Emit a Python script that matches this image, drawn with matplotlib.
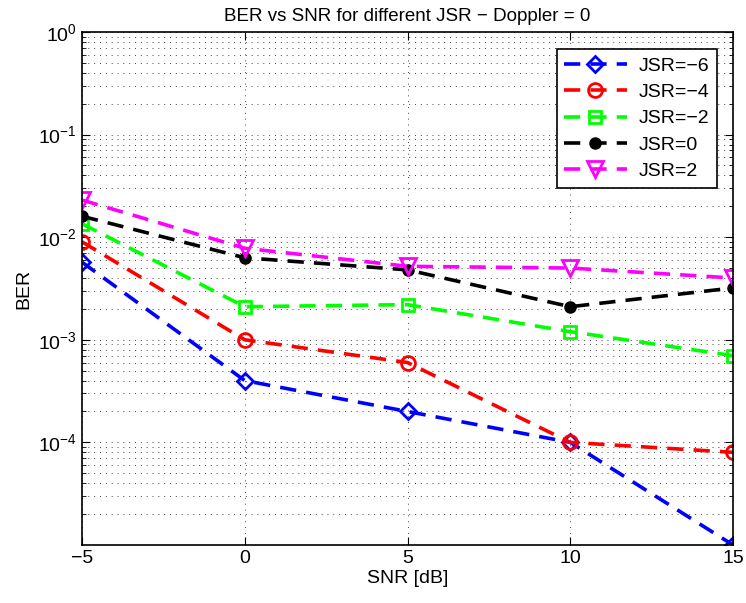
import numpy as np
import matplotlib
matplotlib.use('Agg')
import matplotlib.pyplot as plt
from matplotlib.ticker import LogLocator, NullFormatter, FixedLocator

plt.rcParams['font.family'] = ['Liberation Sans', 'DejaVu Sans']
plt.rcParams['axes.unicode_minus'] = True

snr = [-5, 0, 5, 10, 15]
ber_jsr_m6 = [5.7e-3, 4.0e-4, 2.0e-4, 1.0e-4, 1.0e-5]
ber_jsr_m4 = [9.0e-3, 1.0e-3, 6.0e-4, 1.0e-4, 8.0e-5]
ber_jsr_m2 = [1.35e-2, 2.1e-3, 2.2e-3, 1.2e-3, 7.0e-4]
ber_jsr_0 = [1.6e-2, 6.3e-3, 4.8e-3, 2.1e-3, 3.2e-3]
ber_jsr_2 = [2.3e-2, 7.8e-3, 5.2e-3, 5.0e-3, 4.0e-3]
labels = ['JSR=\u22126', 'JSR=\u22124', 'JSR=\u22122', 'JSR=0', 'JSR=2']
y_major = [1e-4, 1e-3, 1e-2, 1e-1, 1e0]

fig = plt.figure(figsize=(7.46, 6.03), dpi=100)
ax = fig.add_axes([0.110, 0.0962, 0.8726, 0.8508])

lw = 2.6
dash = (0, (4.5, 2.8))
ax.semilogy(snr, ber_jsr_m6, ls=dash, color='#0000ff', lw=lw, marker='D', ms=8,
            mfc='none', mew=2, label=labels[0])
ax.semilogy(snr, ber_jsr_m4, ls=dash, color='#ff0000', lw=lw, marker='o', ms=10,
            mfc='none', mew=2, label=labels[1])
ax.semilogy(snr, ber_jsr_m2, ls=dash, color='#00ff00', lw=lw, marker='s', ms=9,
            mfc='none', mew=2, label=labels[2])
ax.semilogy(snr, ber_jsr_0, ls=dash, color='#000000', lw=lw, marker='o', ms=8,
            mfc='#000000', mew=1, label=labels[3])
ax.semilogy(snr, ber_jsr_2, ls=dash, color='#ff00ff', lw=lw, marker='v', ms=12,
            mfc='none', mew=2, label=labels[4])

ax.set_xlim(-5, 15)
ax.set_ylim(1e-5, 1)
ax.xaxis.set_major_locator(FixedLocator(snr))
ax.yaxis.set_major_locator(FixedLocator(y_major))
ax.yaxis.set_minor_locator(LogLocator(base=10, subs=np.arange(2, 10), numticks=20))
ax.yaxis.set_minor_formatter(NullFormatter())

grid_ls = (0, (1, 5))
ax.grid(True, which='major', axis='both', linestyle=grid_ls, color='#444444', lw=0.7)
ax.grid(True, which='minor', axis='y', linestyle=grid_ls, color='#444444', lw=0.7)

ax.tick_params(which='both', direction='in', top=True, right=True, labelsize=14)
ax.tick_params(which='major', length=6)
ax.tick_params(which='minor', length=3)
for s in ax.spines.values():
    s.set_linewidth(1.2)

ax.set_xlabel('SNR [dB]', fontsize=14, labelpad=2)
ax.set_ylabel('BER', fontsize=14, labelpad=4)
ax.set_title('BER vs SNR for different JSR \u2212 Doppler = 0', fontsize=13.5, pad=8)

leg = ax.legend(loc='upper right', bbox_to_anchor=(0.99, 0.985), fontsize=14,
                fancybox=False, edgecolor='black', framealpha=1,
                handlelength=3.2, borderpad=0.4, labelspacing=0.45, handletextpad=0.6)
leg.get_frame().set_linewidth(1.2)

fig.savefig('out.png', dpi=100)
